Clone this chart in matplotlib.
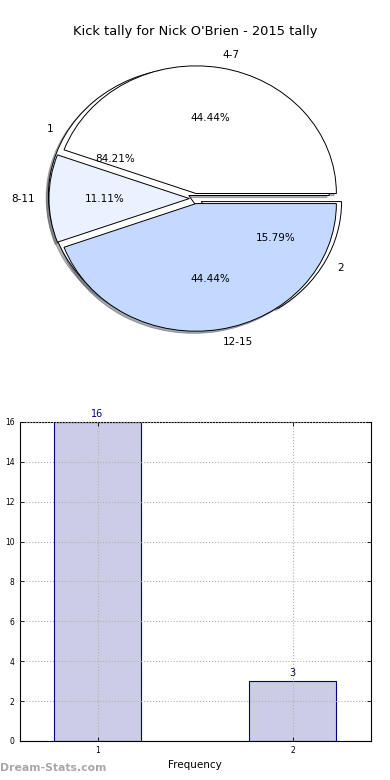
import matplotlib
matplotlib.use('Agg')
import matplotlib.pyplot as plt

# datos
frecuencias = ['1', '2']
conteos = [16, 3]
rangos = ['4-7', '8-11', '12-15']
patadas = [4, 1, 4]
titulo = "Kick tally for Nick O'Brien - 2015 tally"

colores_rangos = ['#ffffff', '#eaf1ff', '#c4d9ff']
color_barra = '#cccce6'
color_borde = '#000080'

fig, (ax1, ax2) = plt.subplots(2, 1, figsize=(3.9, 7.8), dpi=100)
fig.subplots_adjust(left=0.05, right=0.95, bottom=0.05, top=0.95, hspace=0.2)

# pie de frecuencias (debajo)
bordes = dict(edgecolor='black', linewidth=0.7)
sombra = dict(ox=-0.012, oy=-0.012, shade=0.6)
ax1.pie(conteos, labels=frecuencias, colors=['white', 'white'], explode=[0.05, 0.05],
        autopct='%1.2f%%', shadow=sombra, wedgeprops=bordes,
        textprops=dict(fontsize=7.5))
# pie de rangos (encima)
ax1.pie(patadas, labels=rangos, colors=colores_rangos, explode=[0.04, 0.04, 0.04],
        autopct='%1.2f%%', shadow=sombra, wedgeprops=bordes,
        textprops=dict(fontsize=7.5))
ax1.set_aspect('auto')
ax1.set_xlim(-1.25, 1.25)
ax1.set_ylim(-1.25, 1.25)
ax1.set_title(titulo, fontsize=9.4, pad=3)

# barras
posiciones = [int(f) for f in frecuencias]
barras = ax2.bar(posiciones, conteos, width=0.45, color=color_barra,
                 edgecolor=color_borde, linewidth=0.8, zorder=2)
for b, v in zip(barras, conteos):
    ax2.text(b.get_x() + b.get_width() / 2, v + 0.15, str(v), ha='center', va='bottom',
             color=color_borde, fontsize=7)
ax2.set_xlim(0.6, 2.4)
ax2.set_ylim(0, 16)
ax2.set_xticks(posiciones)
ax2.set_xticklabels(frecuencias)
ax2.set_yticks(range(0, 17, 2))
ax2.tick_params(labelsize=5.5, direction='in', length=3, top=True, right=True, width=0.6)
ax2.grid(True, linestyle=':', color='#b0b0b0', linewidth=0.8, zorder=3)
ax2.set_axisbelow(False)
ax2.set_xlabel('Frequency', fontsize=7.5)
ax2.set_ylabel('Count of Kicks', fontsize=7.5)

fig.text(0.0, 0.012, 'Dream-Stats.com', fontsize=7.8, color='#a8a8a8', fontweight='bold')

fig.savefig('out.png', dpi=100)
